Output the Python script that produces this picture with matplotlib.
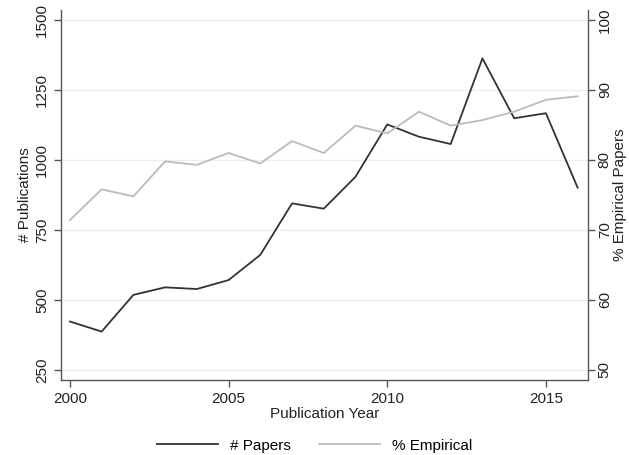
import matplotlib

matplotlib.use("Agg")
import matplotlib.pyplot as plt

years = list(range(2000, 2017))
papers = [423, 387, 518, 545, 539, 571, 661, 845, 826, 940, 1127, 1083, 1057, 1363, 1149, 1167, 901]
pct_empirical = [71.4, 75.8, 74.8, 79.8, 79.3, 81.0, 79.5, 82.7, 81.0, 84.9, 83.8, 86.9, 84.9, 85.7, 86.9, 88.6, 89.1]

left_ticks = [250, 500, 750, 1000, 1250, 1500]
right_ticks = [50, 60, 70, 80, 90, 100]
x_ticks = [2000, 2005, 2010, 2015]

plt.rcParams["font.family"] = ["Liberation Sans", "DejaVu Sans"]

fig = plt.figure(figsize=(6.29, 4.55), dpi=100)
ax = fig.add_axes([0.097, 0.165, 0.838, 0.813])
ax2 = ax.twinx()

spine_col = "#555555"
line_papers, = ax.plot(years, papers, color="#333333", lw=1.3, label="# Papers", zorder=3)
line_emp, = ax2.plot(years, pct_empirical, color="#bbbbbb", lw=1.3, label="% Empirical", zorder=2)

ax.set_xlim(1999.72, 2016.33)
ax.set_ylim(214.3, 1535.7)
ax2.set_ylim(48.57, 101.43)

ax.set_xticks(x_ticks)
ax.set_yticks(left_ticks)
ax2.set_yticks(right_ticks)
ax.grid(axis="y", color="#eeeeee", lw=0.9)
ax.set_axisbelow(True)

for a in (ax, ax2):
    a.spines["top"].set_visible(False)
    for s in ("left", "right", "bottom"):
        a.spines[s].set_color(spine_col)
        a.spines[s].set_linewidth(1.0)
    a.tick_params(colors=spine_col, labelcolor="#222222", labelsize=11, length=5, width=1.0)

ax2.tick_params(axis="y", pad=2)
ax.spines["right"].set_visible(False)
ax2.spines["left"].set_visible(False)
ax2.spines["bottom"].set_visible(False)

for lab in ax.get_yticklabels():
    lab.set_rotation(90)
    lab.set_va("center")
for lab in ax2.get_yticklabels():
    lab.set_rotation(90)
    lab.set_va("center")

ax.set_xlabel("Publication Year", fontsize=11, color="#222222", labelpad=1)
ax.set_ylabel("# Publications", fontsize=11, color="#222222", labelpad=2)
ax2.set_ylabel("% Empirical Papers", fontsize=11, color="#222222", rotation=90, labelpad=1)

fig.legend(
    [line_papers, line_emp],
    ["# Papers", "% Empirical"],
    loc="lower center",
    bbox_to_anchor=(0.5, -0.025),
    ncol=2,
    frameon=False,
    fontsize=11,
    handlelength=4.0,
    columnspacing=1.8,
)

fig.savefig("out.png", dpi=100)
